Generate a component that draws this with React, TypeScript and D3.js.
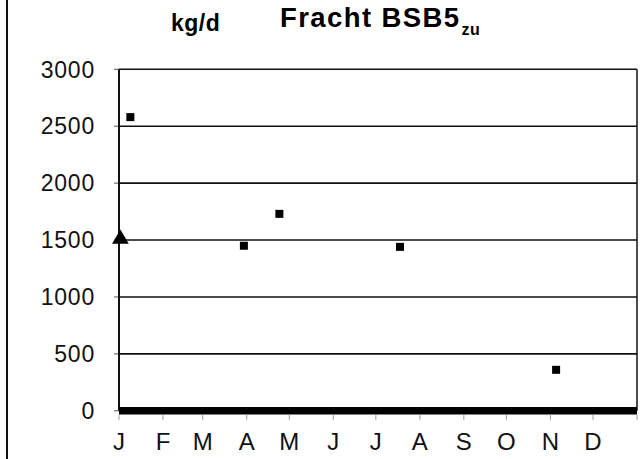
import { useEffect, useRef } from 'react';
import * as d3 from 'd3';

const WIDTH = 643;
const HEIGHT = 459;

// Fracht BSB5 zu, kg/d
const sampleDates = ['2001-01-09', '2001-03-30', '2001-04-24', '2001-07-18', '2001-11-05'];
const sampleValues = [2580, 1450, 1730, 1440, 360];

const limitDates = ['2001-01-02'];
const limitValues = [1500];

const monthLabels = ['J', 'F', 'M', 'A', 'M', 'J', 'J', 'A', 'S', 'O', 'N', 'D'];
const yTicks = [0, 500, 1000, 1500, 2000, 2500, 3000];

const parse = d3.timeParse('%Y-%m-%d');

export default function App() {
  const svgRef = useRef<SVGSVGElement>(null);

  useEffect(() => {
    if (!svgRef.current) return;
    const svg = d3.select(svgRef.current);
    svg.selectAll('*').remove();

    const font = 'Liberation Sans, Arial, Helvetica, sans-serif';

    const x = d3
      .scaleTime()
      .domain([parse('2001-01-01')!, parse('2002-01-01')!])
      .range([119, 637]);
    const y = d3.scaleLinear().domain([0, 3000]).range([410.8, 69.3]);

    // left frame line
    svg
      .append('line')
      .attr('x1', 7)
      .attr('x2', 7)
      .attr('y1', 0)
      .attr('y2', HEIGHT)
      .attr('stroke', '#111')
      .attr('stroke-width', 2);

    // title
    svg
      .append('text')
      .attr('x', 171)
      .attr('y', 31)
      .attr('font-family', font)
      .attr('font-weight', 'bold')
      .attr('font-size', 23)
      .attr('letter-spacing', 0.5)
      .text('kg/d');

    const title = svg
      .append('text')
      .attr('x', 280)
      .attr('y', 27)
      .attr('font-family', font)
      .attr('font-weight', 'bold')
      .attr('font-size', 27.5)
      .attr('letter-spacing', 1.4);
    title.append('tspan').text('Fracht BSB5');
    title
      .append('tspan')
      .attr('font-size', 16)
      .attr('dx', 1)
      .attr('dy', 8)
      .attr('letter-spacing', 0.5)
      .text('zu');

    // gridlines
    svg
      .append('g')
      .selectAll('line')
      .data(yTicks.filter((d) => d > 0))
      .join('line')
      .attr('x1', x.range()[0])
      .attr('x2', x.range()[1])
      .attr('y1', (d) => y(d))
      .attr('y2', (d) => y(d))
      .attr('stroke', '#111')
      .attr('stroke-width', 1.6);

    // y tick marks
    svg
      .append('g')
      .selectAll('line')
      .data(yTicks)
      .join('line')
      .attr('x1', x.range()[0] - 5)
      .attr('x2', x.range()[0])
      .attr('y1', (d) => y(d))
      .attr('y2', (d) => y(d))
      .attr('stroke', '#555')
      .attr('stroke-width', 1);

    // y labels
    svg
      .append('g')
      .selectAll('text')
      .data(yTicks)
      .join('text')
      .attr('x', 95)
      .attr('y', (d) => y(d))
      .attr('dy', '0.36em')
      .attr('text-anchor', 'end')
      .attr('font-family', font)
      .attr('font-size', 23)
      .attr('letter-spacing', 0.8)
      .attr('fill', '#111')
      .text((d) => d);

    // axis frame
    svg
      .append('line')
      .attr('x1', x.range()[0])
      .attr('x2', x.range()[0])
      .attr('y1', y(3000))
      .attr('y2', y(0))
      .attr('stroke', '#111')
      .attr('stroke-width', 2);
    svg
      .append('line')
      .attr('x1', x.range()[1])
      .attr('x2', x.range()[1])
      .attr('y1', y(3000))
      .attr('y2', y(0))
      .attr('stroke', '#111')
      .attr('stroke-width', 1.5);

    // thick baseline
    svg
      .append('line')
      .attr('x1', x.range()[0])
      .attr('x2', x.range()[1])
      .attr('y1', y(0))
      .attr('y2', y(0))
      .attr('stroke', '#000')
      .attr('stroke-width', 7.5);

    // month ticks
    const months = d3.timeMonth.range(x.domain()[0], d3.timeDay.offset(x.domain()[1], 1));
    svg
      .append('g')
      .selectAll('line')
      .data(months)
      .join('line')
      .attr('x1', (d) => x(d))
      .attr('x2', (d) => x(d))
      .attr('y1', y(0) + 4)
      .attr('y2', y(0) + 9)
      .attr('stroke', '#999')
      .attr('stroke-width', 1);

    // month labels
    svg
      .append('g')
      .selectAll('text')
      .data(months.slice(0, 12))
      .join('text')
      .attr('x', (d) => x(d))
      .attr('y', 450)
      .attr('text-anchor', 'middle')
      .attr('font-family', font)
      .attr('font-size', 24)
      .attr('fill', '#111')
      .text((_, i) => monthLabels[i]);

    // samples
    const samples = sampleDates.map((d, i) => ({ date: parse(d)!, value: sampleValues[i] }));
    const sq = 8;
    svg
      .append('g')
      .selectAll('rect')
      .data(samples)
      .join('rect')
      .attr('x', (d) => x(d.date) - sq / 2)
      .attr('y', (d) => y(d.value) - sq / 2)
      .attr('width', sq)
      .attr('height', sq)
      .attr('fill', '#000');

    // limit marker
    const limits = limitDates.map((d, i) => ({ date: parse(d)!, value: limitValues[i] }));
    const tri = d3.symbol().type(d3.symbolTriangle).size(120);
    svg
      .append('g')
      .selectAll('path')
      .data(limits)
      .join('path')
      .attr('transform', (d) => `translate(${x(d.date)},${y(d.value) - 1})`)
      .attr('d', tri)
      .attr('fill', '#000');
  }, []);

  return (
    <svg
      ref={svgRef}
      width={WIDTH}
      height={HEIGHT}
      style={{ position: 'absolute', left: 0, top: 0, background: '#fff' }}
    />
  );
}
